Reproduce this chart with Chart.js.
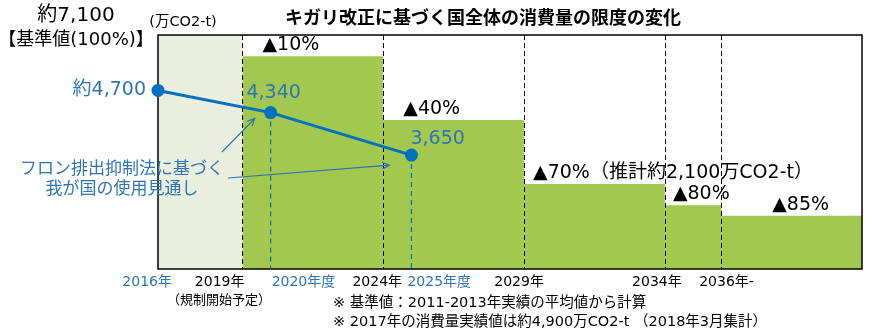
<!DOCTYPE html>
<html lang="ja">
<head>
<meta charset="utf-8">
<script src="https://cdn.jsdelivr.net/npm/chart.js@4/dist/chart.umd.min.js"></script>
<style>
  html, body { margin: 0; padding: 0; background: #fff; }
  #wrap { position: relative; width: 871px; height: 332px; }
</style>
</head>
<body>
<div id="wrap"><canvas id="kigali" width="871" height="332"></canvas></div>
<script>
// 消費量の限度（基準値 約7,100万CO2-t に対する割合, %）
var baseYears = [2016, 2019];
var baseLimit = 100;
var stepYears = [2019, 2024, 2029, 2034, 2036, 2041];
var stepLimits = [90, 60, 30, 20, 15, 15];
var cutLabels = ['▲10%', '▲40%', '▲70%（推計約2,100万CO2-t）', '▲80%', '▲85%'];

// フロン排出抑制法に基づく我が国の使用見通し（万CO2-t）
var outlookYears = [2016, 2020, 2025];
var outlookValues = [4700, 4340, 3650];
var outlookLabels = ['約4,700', '4,340', '3,650'];

// 横軸の目盛り
var tickYears = [2016, 2019, 2020, 2024, 2025, 2029, 2034, 2036];
var tickLabels = ['2016年', '2019年', '2020年度', '2024年', '2025年度', '2029年', '2034年', '2036年-'];
var tickBlue = [true, false, true, false, true, false, false, false];

var GREEN = '#A2C850';
var BEIGE = '#EAEEDF';
var BLUE = '#0070C0';
var BLUE_TEXT = '#2E75B6';
var JP = '"Noto Sans CJK JP", sans-serif';
var MIX = '"DejaVu Sans", "Noto Sans CJK JP", sans-serif';

var y2Min = 1800, y2Max = 5600;

function pts(xs, ys) {
  return xs.map(function (x, i) { return { x: x, y: ys[i] }; });
}

function drawText(ctx, str, x, y, font, color, align) {
  ctx.font = font;
  ctx.fillStyle = color;
  ctx.textAlign = align || 'center';
  ctx.textBaseline = 'middle';
  ctx.fillText(str, x, y);
}

function arrow(ctx, x1, y1, x2, y2) {
  var a = Math.atan2(y2 - y1, x2 - x1), h = 8;
  ctx.beginPath();
  ctx.moveTo(x1, y1);
  ctx.lineTo(x2, y2);
  ctx.moveTo(x2 - h * Math.cos(a - 0.45), y2 - h * Math.sin(a - 0.45));
  ctx.lineTo(x2, y2);
  ctx.lineTo(x2 - h * Math.cos(a + 0.45), y2 - h * Math.sin(a + 0.45));
  ctx.stroke();
}

var overlay = {
  id: 'overlay',
  // 緑の面の直後に区切りの破線と枠を描く
  afterDatasetDraw: function (chart, args) {
    if (args.index !== 1) return;
    var ctx = chart.ctx, area = chart.chartArea, xs = chart.scales.x;
    ctx.save();
    ctx.strokeStyle = '#000';
    ctx.lineWidth = 1;
    ctx.setLineDash([5, 3]);
    stepYears.slice(0, -1).forEach(function (yr) {
      var px = Math.round(xs.getPixelForValue(yr)) + 0.5;
      ctx.beginPath();
      ctx.moveTo(px, area.top);
      ctx.lineTo(px, area.bottom);
      ctx.stroke();
    });
    ctx.setLineDash([]);
    ctx.lineWidth = 1.5;
    ctx.strokeRect(area.left, area.top, area.right - area.left, area.bottom - area.top);
    ctx.restore();
  },
  afterDraw: function (chart) {
    var ctx = chart.ctx, xs = chart.scales.x, ys = chart.scales.y, y2 = chart.scales.y2;
    ctx.save();

    drawText(ctx, 'キガリ改正に基づく国全体の消費量の限度の変化', 483, 17, 'bold 18px ' + JP, '#000');
    drawText(ctx, '約7,100', 76, 16, '20px ' + MIX, '#000');
    drawText(ctx, '【基準値(100%)】', 76, 40, '18px ' + MIX, '#000');
    drawText(ctx, '(万CO2-t)', 183, 22, '14.5px ' + MIX, '#000');

    // 横軸ラベル
    var tickAlign = ['right', 'right', 'left', 'center', 'left', 'center', 'center', 'left'];
    var tickDx = [14, 2, 1, -6, -4, -5, -8, -22];
    tickYears.forEach(function (yr, i) {
      drawText(ctx, tickLabels[i], xs.getPixelForValue(yr) + tickDx[i], 282,
        '14px ' + MIX, tickBlue[i] ? BLUE_TEXT : '#000', tickAlign[i]);
    });
    drawText(ctx, '（規制開始予定）', 219, 299, '13px ' + JP, '#000');

    drawText(ctx, '※ 基準値：2011-2013年実績の平均値から計算', 333, 303, '14.5px ' + MIX, '#000', 'left');
    drawText(ctx, '※ 2017年の消費量実績値は約4,900万CO2-t （2018年3月集計）', 333, 322, '14.5px ' + MIX, '#000', 'left');

    // 削減率のラベル
    var cutDx = [20, 20, 9, 8, 51];
    cutLabels.forEach(function (lab, i) {
      drawText(ctx, lab, xs.getPixelForValue(stepYears[i]) + cutDx[i],
        ys.getPixelForValue(stepLimits[i]) - 11, '19px ' + MIX, '#000', 'left');
    });

    // 見通しの値
    var p = outlookYears.map(function (yr, i) {
      return { x: xs.getPixelForValue(yr), y: y2.getPixelForValue(outlookValues[i]) };
    });
    drawText(ctx, outlookLabels[0], p[0].x - 12, p[0].y, '19px ' + MIX, BLUE_TEXT, 'right');
    drawText(ctx, outlookLabels[1], p[1].x + 3, p[1].y - 20, '19px ' + MIX, BLUE_TEXT, 'center');
    drawText(ctx, outlookLabels[2], p[2].x - 1, p[2].y - 16, '19px ' + MIX, BLUE_TEXT, 'left');

    drawText(ctx, 'フロン排出抑制法に基づく', 122, 168, '17px ' + JP, BLUE_TEXT);
    drawText(ctx, '我が国の使用見通し', 122, 188, '17px ' + JP, BLUE_TEXT);
    ctx.strokeStyle = BLUE_TEXT;
    ctx.lineWidth = 1.2;
    arrow(ctx, 222, 152, p[1].x - 16, p[1].y + 6);
    arrow(ctx, 228, 178, p[2].x - 22, p[2].y + 10);

    ctx.restore();
  }
};

var dropLines = outlookYears.slice(1).map(function (yr, i) {
  return {
    data: [{ x: yr, y: outlookValues[i + 1] }, { x: yr, y: y2Min }],
    yAxisID: 'y2',
    borderColor: BLUE,
    borderWidth: 1.2,
    borderDash: [5, 4],
    pointRadius: 0,
    fill: false,
    order: 2
  };
});

new Chart(document.getElementById('kigali'), {
  type: 'line',
  data: {
    datasets: [
      {
        data: pts(baseYears, [baseLimit, baseLimit]),
        yAxisID: 'y',
        backgroundColor: BEIGE,
        borderWidth: 0,
        pointRadius: 0,
        fill: 'start',
        order: 5
      },
      {
        data: pts(stepYears, stepLimits),
        yAxisID: 'y',
        stepped: 'before',
        backgroundColor: GREEN,
        borderWidth: 0,
        pointRadius: 0,
        fill: 'start',
        order: 4
      }
    ].concat(dropLines, [
      {
        data: pts(outlookYears, outlookValues),
        yAxisID: 'y2',
        borderColor: BLUE,
        borderWidth: 3,
        pointRadius: 6.5,
        pointBackgroundColor: BLUE,
        pointBorderWidth: 0,
        fill: false,
        clip: false,
        order: 1
      }
    ])
  },
  options: {
    responsive: false,
    animation: false,
    layout: { padding: { left: 158, right: 9, top: 35, bottom: 63 } },
    scales: {
      x: { type: 'linear', min: 2016, max: 2041, display: false },
      y: { min: -10, max: 100, display: false },
      y2: { min: y2Min, max: y2Max, display: false }
    },
    plugins: {
      legend: { display: false },
      tooltip: { enabled: false }
    }
  },
  plugins: [overlay]
});
</script>
</body>
</html>
